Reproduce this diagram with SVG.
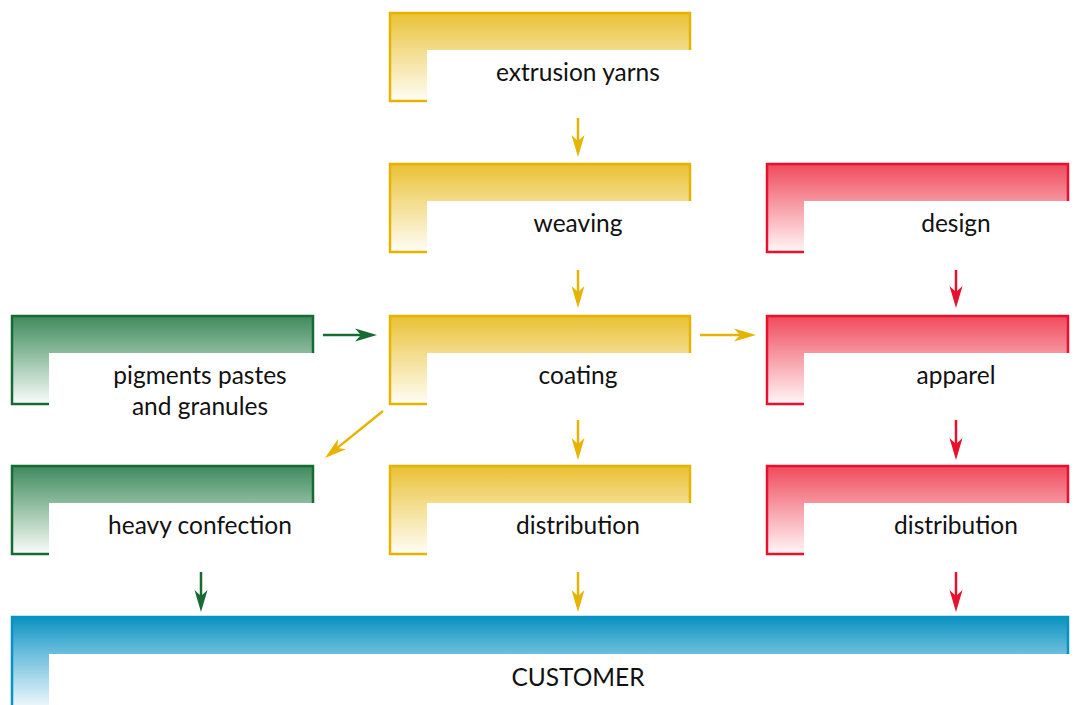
<svg xmlns="http://www.w3.org/2000/svg" width="1079" height="705" viewBox="0 0 1079 705">
<defs>
<linearGradient id="gy" x1="0" y1="0" x2="0" y2="1"><stop offset="0" stop-color="#E9C133"/><stop offset="0.42" stop-color="#F3DC8A"/><stop offset="1" stop-color="#FFFDF5"/></linearGradient>
<linearGradient id="gg" x1="0" y1="0" x2="0" y2="1"><stop offset="0" stop-color="#3F8A5F"/><stop offset="0.42" stop-color="#8CBB9D"/><stop offset="1" stop-color="#FBFDFB"/></linearGradient>
<linearGradient id="gr" x1="0" y1="0" x2="0" y2="1"><stop offset="0" stop-color="#F04A5C"/><stop offset="0.42" stop-color="#F6949E"/><stop offset="1" stop-color="#FFF6F7"/></linearGradient>
<linearGradient id="gb" x1="0" y1="0" x2="0" y2="1"><stop offset="0" stop-color="#0A92C1"/><stop offset="0.42" stop-color="#6DBFDD"/><stop offset="1" stop-color="#EAF6FB"/></linearGradient>
<marker id="ay" viewBox="0 -7 22 14" refX="6" refY="0" markerWidth="22" markerHeight="14" markerUnits="userSpaceOnUse" orient="auto"><path d="M0,-6.5 L22,0 L0,6.5 L6,0 Z" fill="#E6B400"/></marker>
<marker id="ag" viewBox="0 -7 22 14" refX="6" refY="0" markerWidth="22" markerHeight="14" markerUnits="userSpaceOnUse" orient="auto"><path d="M0,-6.5 L22,0 L0,6.5 L6,0 Z" fill="#166B33"/></marker>
<marker id="ar" viewBox="0 -7 22 14" refX="6" refY="0" markerWidth="22" markerHeight="14" markerUnits="userSpaceOnUse" orient="auto"><path d="M0,-6.5 L22,0 L0,6.5 L6,0 Z" fill="#E8112D"/></marker>
</defs>
<style>
.lbl{font-family:Lato,"Open Sans","Liberation Sans",sans-serif;font-size:24.5px;fill:#111;text-anchor:middle}
.edge{fill:none;stroke-width:2.5}
.y{stroke:#E6B400}.g{stroke:#166B33}.r{stroke:#E8112D}.b{stroke:#0A92C1}
.o{fill:none;stroke-width:2.5}
</style>
<rect width="1079" height="705" fill="#fff"/>

<g id="extrusion">
<path d="M390,101 L390,13 L690,13 L690,50 L427,50 L427,101 Z" fill="url(#gy)"/>
<path class="o y" d="M427,101 L390,101 L390,13 L690,13 L690,50"/>
<text class="lbl" x="578" y="81">extrusion yarns</text>
</g>
<g id="weaving">
<path d="M390,252 L390,164 L690,164 L690,201 L427,201 L427,252 Z" fill="url(#gy)"/>
<path class="o y" d="M427,252 L390,252 L390,164 L690,164 L690,201"/>
<text class="lbl" x="578" y="232">weaving</text>
</g>
<g id="coating">
<path d="M390,404 L390,316 L690,316 L690,353 L427,353 L427,404 Z" fill="url(#gy)"/>
<path class="o y" d="M427,404 L390,404 L390,316 L690,316 L690,353"/>
<text class="lbl" x="578" y="384">coating</text>
</g>
<g id="distribution1">
<path d="M390,554 L390,466 L690,466 L690,503 L427,503 L427,554 Z" fill="url(#gy)"/>
<path class="o y" d="M427,554 L390,554 L390,466 L690,466 L690,503"/>
<text class="lbl" x="578" y="534">distribution</text>
</g>

<g id="pigments">
<path d="M12,404 L12,316 L313,316 L313,353 L49,353 L49,404 Z" fill="url(#gg)"/>
<path class="o g" d="M49,404 L12,404 L12,316 L313,316 L313,353"/>
<text class="lbl" x="200" y="384">pigments pastes</text>
<text class="lbl" x="200" y="415">and granules</text>
</g>
<g id="heavy">
<path d="M12,554 L12,466 L313,466 L313,503 L49,503 L49,554 Z" fill="url(#gg)"/>
<path class="o g" d="M49,554 L12,554 L12,466 L313,466 L313,503"/>
<text class="lbl" x="200" y="534">heavy confection</text>
</g>

<g id="design">
<path d="M767,252 L767,164 L1068,164 L1068,201 L804,201 L804,252 Z" fill="url(#gr)"/>
<path class="o r" d="M804,252 L767,252 L767,164 L1068,164 L1068,201"/>
<text class="lbl" x="956" y="232">design</text>
</g>
<g id="apparel">
<path d="M767,404 L767,316 L1068,316 L1068,353 L804,353 L804,404 Z" fill="url(#gr)"/>
<path class="o r" d="M804,404 L767,404 L767,316 L1068,316 L1068,353"/>
<text class="lbl" x="956" y="384">apparel</text>
</g>
<g id="distribution2">
<path d="M767,554 L767,466 L1068,466 L1068,503 L804,503 L804,554 Z" fill="url(#gr)"/>
<path class="o r" d="M804,554 L767,554 L767,466 L1068,466 L1068,503"/>
<text class="lbl" x="956" y="534">distribution</text>
</g>

<g id="customer">
<path d="M12,705 L12,617 L1068,617 L1068,654 L49,654 L49,705 Z" fill="url(#gb)"/>
<path class="o b" d="M12,705 L12,617 L1068,617 L1068,654"/>
<text class="lbl" x="578" y="686">CUSTOMER</text>
</g>

<g id="connectors">
<line class="edge y" x1="578" y1="118" x2="578" y2="141" marker-end="url(#ay)"/>
<line class="edge y" x1="578" y1="270" x2="578" y2="292" marker-end="url(#ay)"/>
<line class="edge y" x1="578" y1="420" x2="578" y2="444" marker-end="url(#ay)"/>
<line class="edge y" x1="578" y1="572" x2="578" y2="596" marker-end="url(#ay)"/>
<line class="edge y" x1="700" y1="335" x2="740" y2="335" marker-end="url(#ay)"/>
<line class="edge y" x1="383" y1="411" x2="337.4" y2="447.9" marker-end="url(#ay)"/>
<line class="edge g" x1="323" y1="335" x2="361" y2="335" marker-end="url(#ag)"/>
<line class="edge g" x1="201" y1="572" x2="201" y2="596" marker-end="url(#ag)"/>
<line class="edge r" x1="956" y1="270" x2="956" y2="292" marker-end="url(#ar)"/>
<line class="edge r" x1="956" y1="420" x2="956" y2="444" marker-end="url(#ar)"/>
<line class="edge r" x1="956" y1="572" x2="956" y2="596" marker-end="url(#ar)"/>
</g>
</svg>
